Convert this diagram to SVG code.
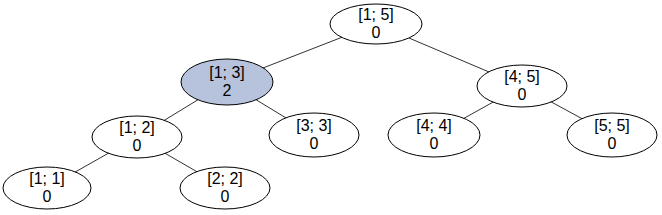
<svg xmlns="http://www.w3.org/2000/svg" width="662" height="215" viewBox="0 0 662 215">
<style>
.n ellipse{fill:#fff;stroke:#000;stroke-width:1}
.n.hl ellipse{fill:#b7c3dd}
.n text{font-family:"Liberation Sans",Arial,sans-serif;font-size:16px;fill:#000;text-anchor:middle}
#edges line{stroke:#333;stroke-width:1}
</style>
<rect width="662" height="215" fill="#fff"/>
<g id="edges">
<line x1="376" y1="24" x2="227" y2="82"/>
<line x1="376" y1="24" x2="522" y2="86"/>
<line x1="227" y1="82" x2="137" y2="137"/>
<line x1="227" y1="82" x2="314" y2="135"/>
<line x1="137" y1="137" x2="47" y2="188"/>
<line x1="137" y1="137" x2="225" y2="188"/>
<line x1="522" y1="86" x2="434" y2="135"/>
<line x1="522" y1="86" x2="612" y2="135"/>
</g>
<g id="n15" class="n"><ellipse cx="376" cy="24" rx="46" ry="20"/><text x="376" y="20">[1; 5]</text><text x="376" y="38">0</text></g>
<g id="n13" class="n hl"><ellipse cx="227" cy="82" rx="46" ry="23"/><text x="227" y="78">[1; 3]</text><text x="227" y="96">2</text></g>
<g id="n45" class="n"><ellipse cx="522" cy="86" rx="45" ry="21"/><text x="522" y="82">[4; 5]</text><text x="522" y="100">0</text></g>
<g id="n12" class="n"><ellipse cx="137" cy="137" rx="45" ry="21"/><text x="137" y="133">[1; 2]</text><text x="137" y="151">0</text></g>
<g id="n33" class="n"><ellipse cx="314" cy="135" rx="45" ry="22"/><text x="314" y="131">[3; 3]</text><text x="314" y="149">0</text></g>
<g id="n44" class="n"><ellipse cx="434" cy="135" rx="46" ry="22"/><text x="434" y="131">[4; 4]</text><text x="434" y="149">0</text></g>
<g id="n55" class="n"><ellipse cx="612" cy="135" rx="45" ry="22"/><text x="612" y="131">[5; 5]</text><text x="612" y="149">0</text></g>
<g id="n11" class="n"><ellipse cx="47" cy="188" rx="44" ry="21"/><text x="47" y="184">[1; 1]</text><text x="47" y="202">0</text></g>
<g id="n22" class="n"><ellipse cx="225" cy="188" rx="45" ry="21"/><text x="225" y="184">[2; 2]</text><text x="225" y="202">0</text></g>
</svg>
